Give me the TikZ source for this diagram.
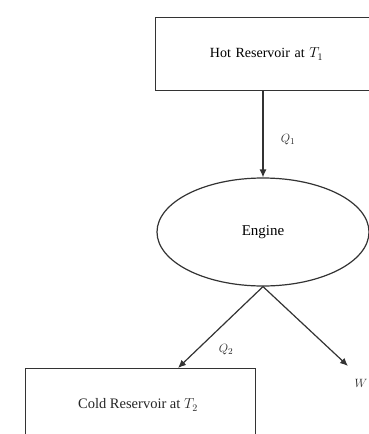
\documentclass[tikz,border=0pt]{standalone}
\usepackage{fontspec}
\setmainfont{Liberation Serif}
\usetikzlibrary{shapes.geometric,arrows.meta}
\begin{document}
\begin{tikzpicture}[x=1pt,y=-1pt,
  line/.style={draw=black!80,line width=1.2pt},
  resbox/.style={line,rectangle,inner sep=0pt,font=\fontsize{14}{16}\selectfont},
  flow/.style={line,-{Latex[length=8pt,width=7pt]}},
  lbl/.style={font=\fontsize{13}{15}\selectfont,text=black!85}]
\clip (0,0) rectangle (369,434);
\node[resbox,minimum width=225pt,minimum height=73pt,text width=225pt,align=center,anchor=north west] (hot) at (155,17) {\hspace*{-3pt}Hot Reservoir at $T_1$\par\vspace*{-2pt}};
\node[line,ellipse,minimum width=212pt,minimum height=108pt,inner sep=0pt,font=\fontsize{15}{17}\selectfont] (eng) at (263,232) {Engine};
\node[resbox,minimum width=230pt,minimum height=90pt,anchor=north west] (cold) at (25,368) {};
\node[lbl,font=\fontsize{14.5}{16}\selectfont] (coldtext) at (138,405) {Cold Reservoir at $T_2$};
\coordinate (c2) at (178,368);
\coordinate (wend) at (348,366);
\draw[flow] (eng.north |- hot.south) -- (eng.north);
\draw[flow] (eng.south) -- (c2);
\draw[flow] (eng.south) -- (wend);
\node[lbl] (q1) at (288,140) {$Q_1$};
\node[lbl] (q2) at (226,350) {$Q_2$};
\node[lbl] (w) at (361,383) {$W$};
\end{tikzpicture}
\end{document}
